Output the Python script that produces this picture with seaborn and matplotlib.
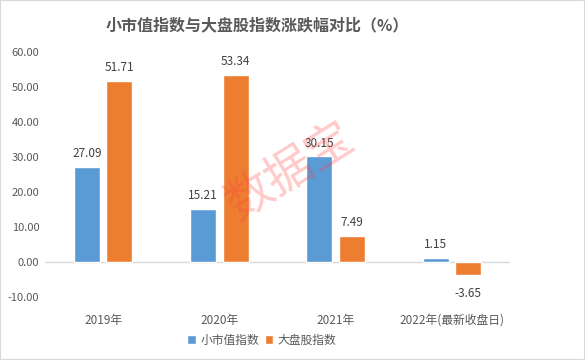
import pandas as pd
import numpy as np
import matplotlib
matplotlib.use('Agg')
import matplotlib.pyplot as plt
import seaborn as sns

# --- data ---
years = ['2019年', '2020年', '2021年', '2022年(最新收盘日)']
small_cap = [27.09, 15.21, 30.15, 1.15]
large_cap = [51.71, 53.34, 7.49, -3.65]
series_names = ['小市值指数', '大盘股指数']
y_ticks = [-10, 0, 10, 20, 30, 40, 50, 60]

df = pd.DataFrame({
    'year': years * 2,
    'value': small_cap + large_cap,
    'series': [series_names[0]] * 4 + [series_names[1]] * 4,
})

sns.set_theme(style='white')
plt.rcParams['font.family'] = ['Noto Sans CJK SC', 'DejaVu Sans']

text_gray = '#595959'
palette = {series_names[0]: '#5B9BD5', series_names[1]: '#ED7D31'}

fig = plt.figure(figsize=(5.85, 3.6), dpi=100)
ax = fig.add_axes([45 / 585, 63 / 360, 465 / 585, 245 / 360])

sns.barplot(data=df, x='year', y='value', hue='series', order=years,
            hue_order=series_names, palette=palette, width=0.56, gap=0.2,
            saturation=1, legend=True, ax=ax)

# value labels
for container in ax.containers:
    for bar in container:
        h = bar.get_height()
        x = bar.get_x() + bar.get_width() / 2
        if h >= 0:
            ax.annotate(f'{h:.2f}', (x, h), xytext=(0, 5), textcoords='offset points',
                        ha='center', va='bottom', fontsize=8.5, color='#404040')
        else:
            ax.annotate(f'{h:.2f}', (x, h), xytext=(0, -9), textcoords='offset points',
                        ha='center', va='top', fontsize=8.5, color='#404040')

ax.set_ylim(-10, 60)
ax.set_xlim(-0.5, 3.5)
ax.set_yticks(y_ticks)
ax.set_yticklabels([f'{t:.2f}' for t in y_ticks], fontsize=8, color=text_gray)
ax.tick_params(axis='x', labelsize=8.5, labelcolor=text_gray, length=0, pad=12)
ax.tick_params(axis='y', length=0, pad=4)
ax.set_xlabel('')
ax.set_ylabel('')
for s in ax.spines.values():
    s.set_visible(False)
ax.axhline(0, color='#D9D9D9', lw=1, zorder=0)

# legend at the bottom
handles, labels = ax.get_legend_handles_labels()
ax.legend_.remove()
fig.legend(handles, labels, loc='center', bbox_to_anchor=(262 / 585, 1 - 340 / 360),
           ncol=2, frameon=False, fontsize=8.5, handlelength=0.7, handleheight=0.7,
           handletextpad=0.4, columnspacing=0.5, labelcolor=text_gray)

# title
fig.text(257 / 585, 1 - 25 / 360, '小市值指数与大盘股指数涨跌幅对比（%）',
         ha='center', va='center', fontsize=11.5, fontweight='bold', color=text_gray)

# watermark
fig.text(290 / 585, 1 - 172 / 360, '数据宝', ha='center', va='center', fontsize=34,
         color='#FF4040', alpha=0.28, rotation=32)

# light border
fig.patches.append(plt.Rectangle((0, 0), 1, 1, transform=fig.transFigure, fill=False,
                                 edgecolor='#D9D9D9', lw=1.5))

fig.savefig('out.png', dpi=100)
